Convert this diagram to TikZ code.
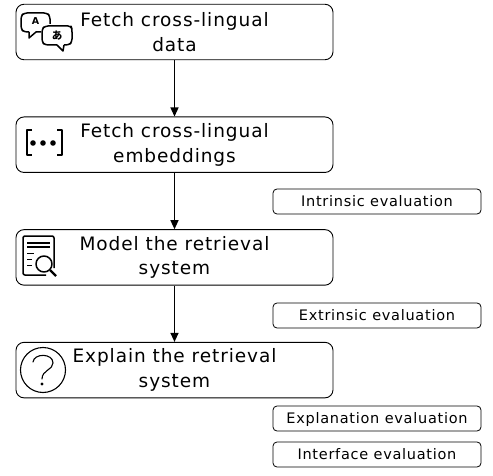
\documentclass[tikz,border=0pt]{standalone}
\usepackage{fontspec}
\setmainfont[LetterSpace=5]{DejaVu Sans}
\newfontfamily\cjkfont{Noto Sans CJK JP}
\usetikzlibrary{positioning,arrows.meta}

\tikzset{
  stage/.style={draw, rounded corners=8pt, line width=0.9pt, minimum width=317pt, minimum height=55.5pt, inner sep=0pt, align=center, font=\fontsize{18.5}{24.5}\selectfont},
  evalbox/.style={draw, rounded corners=4pt, line width=0.8pt, minimum width=208pt, minimum height=25pt, inner sep=0pt, text height=12pt, text depth=2pt, font=\fontsize{14.5}{16}\selectfont},
  flow/.style={->, >={Triangle[width=8pt,length=9pt]}, line width=1.2pt},
  icon/.style={line width=1.5pt, line join=round},
  glyph/.style={inner sep=0pt, font=\bfseries\fontsize{9.5}{9.5}\selectfont}
}

\begin{document}
\begin{tikzpicture}[x=1pt, y=-1pt, node distance=56.3pt]
\useasboundingbox (0,0) rectangle (493,476);

\node[stage] (data) at (174.5,32) {Fetch cross-lingual\\data};
\node[stage, below=of data] (embeddings) {Fetch cross-lingual\\embeddings};
\node[stage, below=of embeddings] (model) {Model the retrieval\\system};
\node[stage, below=of model] (explain) {Explain the retrieval\\system};

\node[evalbox] (intrinsic) at (377,201.5) {Intrinsic evaluation};
\node[evalbox] (extrinsic) at (377,315.5) {Extrinsic evaluation};
\node[evalbox] (explanation) at (377,418.5) {Explanation evaluation};
\node[evalbox] (interface) at (377,454.5) {Interface evaluation};

\draw[flow] (data) -- (embeddings);
\draw[flow] (embeddings) -- (model);
\draw[flow] (model) -- (explain);

\draw[icon, rounded corners=3pt] (29,32) -- (24,32) -- (21,29) -- (21,16) -- (24,13) -- (47,13) -- (50,16) -- (50,24);
\draw[icon] (29,32) -- (29,38) -- (36,32) -- (41,32);
\draw[icon, rounded corners=3pt] (57,45) -- (45,45) -- (42,42) -- (42,29) -- (45,26) -- (71,26) -- (72,29) -- (72,42) -- (69,45) -- (64,45);
\draw[icon] (57,45) -- (63,51) -- (64,45);
\node[glyph] (latin) at (35.5,21.5) {A};
\node[glyph, font=\cjkfont\bfseries\fontsize{10.5}{10.5}\selectfont] (kana) at (57,35.5) {あ};

\draw[icon] (32,130) -- (27,130) -- (27,155) -- (32,155);
\draw[icon] (57,130) -- (62,130) -- (62,155) -- (57,155);
\foreach \dotx in {33,43,53}
  \fill (\dotx,143) circle (2.8pt);

\draw[icon, rounded corners=2pt] (46,275) -- (23,275) -- (23,236) -- (54,236) -- (54,268);
\foreach \liney in {243,247}
  \draw[line width=1.1pt] (27,\liney) -- (50,\liney);
\draw[line width=1.1pt] (27,253.5) -- (34,253.5);
\draw[line width=1.1pt] (27,259.5) -- (32,259.5);
\draw[line width=1.1pt] (27,265.5) -- (32,265.5);
\draw[icon] (44,264) circle (8pt);
\draw[icon, line width=2.2pt] (50,270) -- (56,276);

\draw[icon, line width=1.1pt] (43,370) circle (22.5pt);
\draw[icon, line width=1.1pt, line cap=round] (33,362) .. controls (34,353) and (53,353) .. (53,363) .. controls (53,370) and (42,370) .. (42,379);
\fill (42,384) circle (1.7pt);
\end{tikzpicture}
\end{document}
